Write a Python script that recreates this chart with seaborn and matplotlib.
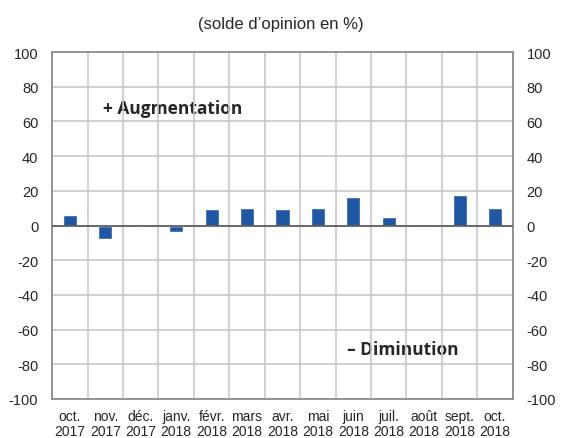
import numpy as np
import pandas as pd
import matplotlib
matplotlib.use("Agg")
import matplotlib.pyplot as plt
import seaborn as sns

# données (solde d'opinion en %)
mois = ["oct.\n2017", "nov.\n2017", "déc.\n2017", "janv.\n2018", "févr.\n2018", "mars\n2018",
        "avr.\n2018", "mai\n2018", "juin\n2018", "juil.\n2018", "août\n2018", "sept.\n2018", "oct.\n2018"]
solde = [6.0, -7.5, -0.7, -4.0, 9.3, 10.3, 9.7, 10.3, 16.3, 5.2, 1.0, 17.8, 10.3]
yticks = list(range(-100, 101, 20))

sns.set_style("white")
plt.rcParams['font.family'] = ['Liberation Sans', 'DejaVu Sans']

df = pd.DataFrame({"mois": mois, "solde": solde})

fig = plt.figure(figsize=(5.61, 4.39), dpi=100)
ax = fig.add_axes([0.093, 0.089, 0.821, 0.79])
sns.barplot(data=df, x="mois", y="solde", color="#1f57a5", saturation=1, width=0.4,
            ax=ax, zorder=3)

ax.set_ylim(-100, 100)
ax.set_xlim(-0.5, len(mois) - 0.5)
ax.set_yticks(yticks)
ax.set_yticklabels([str(v) for v in yticks], fontsize=10.5)
ax.set_xticks(range(len(mois)))
ax.set_xticklabels(mois, fontsize=10, linespacing=1.15)
ax.set_xticks(np.arange(-0.5, len(mois), 1), minor=True)
ax.tick_params(axis="y", length=0, pad=10)
ax.tick_params(axis="x", length=0, pad=7)
ax.tick_params(axis="x", which="minor", length=0)
ax.set_xlabel("")
ax.set_ylabel("")

ax.set_axisbelow(True)
ax.grid(axis="y", which="major", color="#c8c8c8", linewidth=1.2)
ax.grid(axis="x", which="minor", color="#c8c8c8", linewidth=1.2)
ax.axhline(0, color="#606060", linewidth=1.3, zorder=4)
for s in ax.spines.values():
    s.set_color("#8c8c8c")
    s.set_linewidth(1.3)

ax2 = ax.twinx()
ax2.set_ylim(-100, 100)
ax2.set_yticks(yticks)
ax2.set_yticklabels([str(v) for v in yticks], fontsize=10.5)
ax2.tick_params(axis="y", length=0, pad=10)
for s in ax2.spines.values():
    s.set_visible(False)

fig.text(0.5, 0.945, "(solde d\u2019opinion en %)", ha="center", va="center", fontsize=12)
ax.text(0.11, 0.84, "+ Augmentation", transform=ax.transAxes, fontsize=12.5,
        fontweight="bold", family=["Open Sans", "DejaVu Sans"], va="center", zorder=0.1)
ax.text(0.64, 0.145, "\u2013 Diminution", transform=ax.transAxes, fontsize=12.5,
        fontweight="bold", family=["Open Sans", "DejaVu Sans"], va="center", zorder=0.1)

fig.savefig("out.png", dpi=100)
